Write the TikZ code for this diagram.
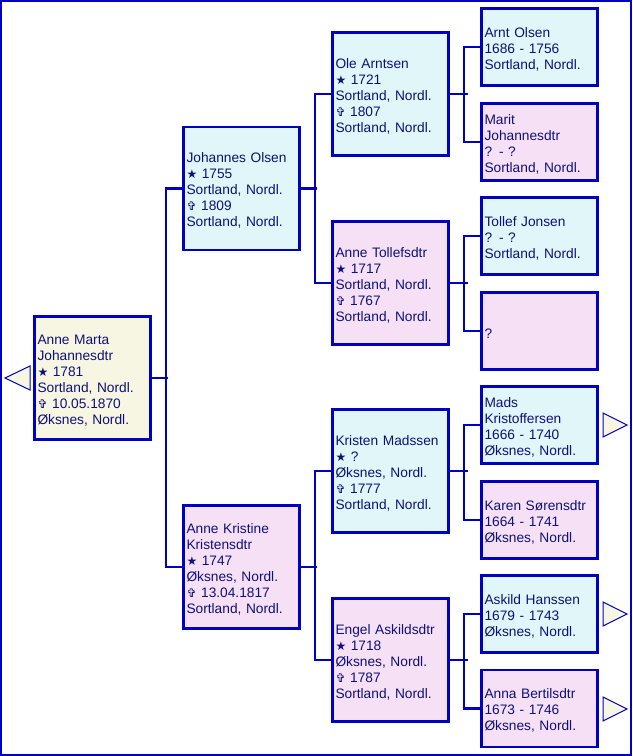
\documentclass[tikz,border=0pt]{standalone}
\usepackage{fontspec}
\setmainfont{Liberation Sans}
\newfontfamily\symfont{DejaVu Sans}
\definecolor{boxblue}{HTML}{0000C0}
\definecolor{navy}{HTML}{10107A}
\definecolor{fbeige}{HTML}{F6F6E2}
\definecolor{fcyan}{HTML}{E0F6F8}
\definecolor{fpink}{HTML}{F6E0F6}
\newcommand{\pfont}{\fontsize{10.3}{12}\selectfont}
\newcommand{\bs}{{\symfont\fontsize{9}{12}\selectfont ★}}
\newcommand{\ds}{{\symfont\fontsize{9}{12}\selectfont ✞}}
\tikzset{
  person/.style={draw=boxblue, line width=1.8pt, minimum width=87pt, text width=82.5pt,
    inner xsep=2.25pt, inner ysep=0pt, align=left, font=\pfont, text=navy,
    execute at begin node={\rule{0pt}{10.5pt}}},
  big/.style={person, minimum height=92.5pt},
  small/.style={person, minimum height=58pt},
  conn/.style={draw=boxblue, line width=1.7pt},
  tri/.style={draw=boxblue, line width=0.75pt, fill=fbeige}
}
\begin{document}
\begin{tikzpicture}[x=0.75pt,y=-0.75pt]
\useasboundingbox (0,0) rectangle (632,756);
\draw[draw=boxblue, line width=1.8pt] (1.2,1.2) rectangle (630.8,754.8);
% generation 0
\node[big, fill=fbeige] (am) at (92.5,378) {Anne Marta\\Johannesdtr\\\bs\ 1781\\Sortland, Nordl.\\\ds\ 10.05.1870\\Øksnes, Nordl.};
% generation 1
\node[big, fill=fcyan] (jo) at (241.5,188.5) {Johannes Olsen\\\bs\ 1755\\Sortland, Nordl.\\\ds\ 1809\\Sortland, Nordl.};
\node[big, fill=fpink] (ak) at (241.5,567) {Anne Kristine\\Kristensdtr\\\bs\ 1747\\Øksnes, Nordl.\\\ds\ 13.04.1817\\Sortland, Nordl.};
% generation 2
\node[big, fill=fcyan] (ol) at (390.5,94) {Ole Arntsen\\\bs\ 1721\\Sortland, Nordl.\\\ds\ 1807\\Sortland, Nordl.};
\node[big, fill=fpink] (at) at (390.5,283) {Anne Tollefsdtr\\\bs\ 1717\\Sortland, Nordl.\\\ds\ 1767\\Sortland, Nordl.};
\node[big, fill=fcyan] (km) at (390.5,471) {Kristen Madssen\\\bs\ ?\\Øksnes, Nordl.\\\ds\ 1777\\Sortland, Nordl.};
\node[big, fill=fpink] (ea) at (390.5,660) {Engel Askildsdtr\\\bs\ 1718\\Øksnes, Nordl.\\\ds\ 1787\\Sortland, Nordl.};
% generation 3
\node[small, fill=fcyan] (ao) at (539.5,47) {Arnt Olsen\\1686 - 1756\\Sortland, Nordl.};
\node[small, fill=fpink] (mj) at (539.5,142) {Marit\\Johannesdtr\\? - ?\\Sortland, Nordl.};
\node[small, fill=fcyan] (tj) at (539.5,236) {Tollef Jonsen\\? - ?\\Sortland, Nordl.};
\node[small, fill=fpink] (qq) at (539.5,331) {?};
\node[small, fill=fcyan] (mk) at (539.5,425) {Mads\\Kristoffersen\\1666 - 1740\\Øksnes, Nordl.};
\node[small, fill=fpink] (ks) at (539.5,520) {Karen Sørensdtr\\1664 - 1741\\Øksnes, Nordl.};
\node[small, fill=fcyan] (ah) at (539.5,614) {Askild Hanssen\\1679 - 1743\\Øksnes, Nordl.};
\node[small, fill=fpink] (ab) at (539.5,708.5) {Anna Bertilsdtr\\1673 - 1746\\Øksnes, Nordl.};
% connectors
\draw[conn] (am.east) -- ++(16,0);
\draw[conn] (jo.west) -- ++(-16,0) |- (ak.west);
\draw[conn] (jo.east) -- ++(16,0);
\draw[conn] (ol.west) -- ++(-16,0) |- (at.west);
\draw[conn] (ak.east) -- ++(16,0);
\draw[conn] (km.west) -- ++(-16,0) |- (ea.west);
\draw[conn] (ol.east) -- ++(18,0);
\draw[conn] (ao.west) -- ++(-16,0) |- (mj.west);
\draw[conn] (at.east) -- ++(18,0);
\draw[conn] (tj.west) -- ++(-16,0) |- (qq.west);
\draw[conn] (km.east) -- ++(18,0);
\draw[conn] (mk.west) -- ++(-16,0) |- (ks.west);
\draw[conn] (ea.east) -- ++(18,0);
\draw[conn] (ah.west) -- ++(-16,0) |- (ab.west);
% triangles
\draw[tri] (5,378) -- (30,366) -- (30,390) -- cycle;
\draw[tri] (627,425) -- (603,413) -- (603,437) -- cycle;
\draw[tri] (627,614) -- (603,602) -- (603,626) -- cycle;
\draw[tri] (627,709) -- (603,697) -- (603,721) -- cycle;
\end{tikzpicture}
\end{document}
